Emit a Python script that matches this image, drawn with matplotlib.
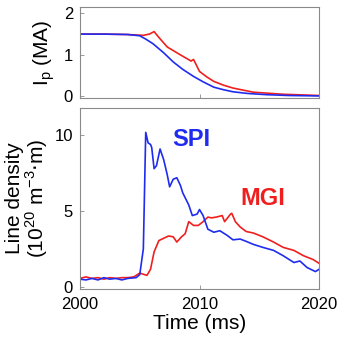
import numpy as np
import matplotlib.pyplot as plt

plt.rcParams['font.family'] = ['Liberation Sans', 'DejaVu Sans']

BLUE = "#1f2cf0"
RED = "#f01f1f"

# plasma current (MA)
ip_spi_t = [2000, 2002, 2004, 2005.0, 2005.5, 2006.1, 2007.0, 2007.8, 2008.6, 2009.5,
            2010.3, 2011.2, 2012.0, 2012.8, 2014.0, 2015.6, 2017.5, 2020]
ip_spi = [1.5, 1.5, 1.49, 1.46, 1.38, 1.27, 1.05, 0.83, 0.65, 0.48,
          0.35, 0.22, 0.16, 0.11, 0.07, 0.04, 0.02, 0.01]
ip_mgi_t = [2000, 2002, 2004, 2005.3, 2005.8, 2006.2, 2006.6, 2007.3, 2008.4, 2009.3,
            2009.5, 2010.0, 2010.6, 2011.2, 2012.0, 2012.8, 2014.5, 2017.0, 2020]
ip_mgi = [1.5, 1.5, 1.49, 1.47, 1.5, 1.56, 1.42, 1.19, 1.0, 0.85,
          0.89, 0.6, 0.47, 0.36, 0.27, 0.2, 0.1, 0.05, 0.02]

# line density (1e20 m^-3 m)
nl_spi_t = [2000, 2000.5, 2001, 2001.5, 2002, 2002.5, 2003, 2003.5, 2004, 2004.7,
            2005.0, 2005.3, 2005.5, 2005.7, 2005.9, 2006.0, 2006.2, 2006.4, 2006.7,
            2007.0, 2007.3, 2007.5, 2007.8, 2008.1, 2008.4, 2008.6, 2009.1, 2009.4,
            2009.8, 2010.0, 2010.3, 2010.7, 2011.2, 2011.7, 2012.3, 2012.8, 2013.4,
            2013.9, 2014.5, 2015.3, 2016.2, 2017.0, 2017.9, 2018.4, 2019.0, 2019.7, 2020]
nl_spi = [0.5, 0.45, 0.55, 0.45, 0.6, 0.5, 0.55, 0.45, 0.55, 0.6,
          0.8, 2.5, 10.2, 9.5, 9.4, 9.2, 7.8, 8.0, 9.1,
          8.4, 7.4, 6.6, 7.1, 7.2, 6.7, 6.2, 5.4, 4.7,
          4.8, 5.1, 4.7, 3.8, 3.6, 3.7, 3.4, 3.1, 3.15,
          3.0, 2.8, 2.6, 2.4, 2.05, 1.6, 1.7, 1.27, 1.0, 1.15]
nl_mgi_t = [2000, 2000.5, 2001, 2001.5, 2002, 2002.5, 2003, 2003.5, 2004, 2004.5,
            2005.0, 2005.6, 2005.9, 2006.2, 2006.6, 2007.0, 2007.4, 2007.8, 2008.1,
            2008.5, 2008.8, 2009.1, 2009.5, 2009.9, 2010.3, 2010.7, 2011.0, 2011.4,
            2011.9, 2012.1, 2012.6, 2012.7, 2013.0, 2013.4, 2013.9, 2014.5, 2015.3,
            2016.2, 2017.0, 2017.9, 2018.7, 2019.5, 2020]
nl_mgi = [0.55, 0.65, 0.55, 0.6, 0.5, 0.6, 0.55, 0.6, 0.6, 0.65,
          0.9, 0.75, 1.15, 2.3, 3.05, 3.2, 3.35, 3.3, 2.95,
          3.3, 3.5, 4.3, 4.05, 4.05, 4.3, 4.6, 4.55, 4.6,
          4.7, 4.3, 4.8, 4.85, 4.3, 3.95, 3.65, 3.55, 3.3,
          2.95, 2.6, 2.4, 2.05, 1.8, 1.55]

fig = plt.figure(figsize=(3.39, 3.40), dpi=100)
ax1 = fig.add_axes([0.236, 0.713, 0.705, 0.266])
ax2 = fig.add_axes([0.236, 0.150, 0.705, 0.532])

for ax in (ax1, ax2):
    for s in ax.spines.values():
        s.set_color("#8a8a8a")
        s.set_linewidth(0.8)
    ax.tick_params(direction="in", length=3, width=0.6, color="#8a8a8a",
                   labelsize=12)
    ax.tick_params(axis="y", pad=5)
    ax.tick_params(axis="x", pad=6)
    ax.set_xlim(2000, 2020)
    ax.set_xticks([2000, 2010, 2020])

ax1.plot(ip_mgi_t, ip_mgi, color=RED, lw=1.2)
ax1.plot(ip_spi_t, ip_spi, color=BLUE, lw=1.2)
ax1.set_ylim(-0.03, 2.15)
ax1.set_yticks([0, 1, 2])
ax1.set_xticklabels([])
ax1.set_ylabel("I$_\\mathregular{p}$ (MA)", fontsize=15, labelpad=5)

ax2.plot(nl_mgi_t, nl_mgi, color=RED, lw=1.2)
ax2.plot(nl_spi_t, nl_spi, color=BLUE, lw=1.2)
ax2.set_ylim(-0.15, 11.8)
ax2.set_yticks([0, 5, 10])
ax2.set_xlabel("Time (ms)", fontsize=15, labelpad=1)
ax2.set_ylabel("Line density\n(10$^\\mathregular{20}$ m$^\\mathregular{-3}$$\\cdot$m)",
               fontsize=15, labelpad=3, linespacing=1.0)

ax2.text(2007.75, 9.7, "SPI", color=BLUE, fontsize=17, fontweight="bold", va="center")
ax2.text(2013.4, 5.85, "MGI", color=RED, fontsize=17, fontweight="bold", va="center")

fig.savefig("out.png", dpi=100)
